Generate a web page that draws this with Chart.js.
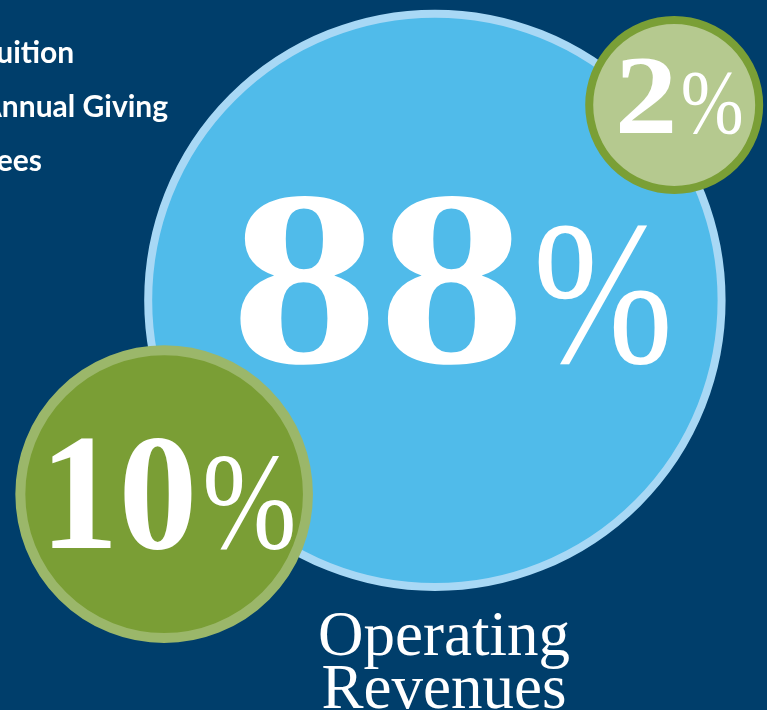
<!DOCTYPE html>
<html>
<head>
<meta charset="utf-8">
<script src="https://cdn.jsdelivr.net/npm/chart.js@4.4.1/dist/chart.umd.min.js"></script>
<style>
  html, body { margin: 0; padding: 0; background: #003e6b; overflow: hidden; }
  canvas { display: block; }
</style>
</head>
<body>
<canvas id="revChart" width="767" height="710"></canvas>
<script>
// revenue split
const categories = ['Tuition', 'Annual Giving', 'Fees'];
const shares = [88, 10, 2];
// bubble placement on a 0-100 grid, size in x units
const bubbleX = [56.7, 21.4, 87.9];
const bubbleY = [42.3, 69.6, 14.8];
const bubbleSize = [37.9, 19.4, 11.6];

const title = ['Operating', 'Revenues'];

var fills = ['#50bbea', '#7a9e35', '#b5c98f'];
var rims = ['#a8d8f5', '#9bb76a', '#7a9f36'];
var rimWidth = [8, 10, 8];
// font sizes, horizontal stretch, shifts from the bubble centre
var labelStyle = [
    { num: 250, numSx: 1.18, pct: 205, pctSx: 0.82, dx: 17, dy: 62 },
    { num: 166, numSx: 0.95, pct: 138, pctSx: 0.82, dx: 4, dy: 54 },
    { num: 112, numSx: 1.12, pct: 92, pctSx: 0.82, dx: 5, dy: 28 }
];

var serif = '"Liberation Serif", "DejaVu Serif", serif';

var bg = {
    id: 'bg',
    beforeDraw: function(chart) {
        const c = chart.ctx;
        c.save();
        c.fillStyle = '#003e6b';
        c.fillRect(0, 0, chart.width, chart.height);
        c.restore();
    }
};

var stretchText = function(c, txt, x, y, sx) {
    c.save();
    c.translate(x, y);
    c.scale(sx, 1);
    c.fillText(txt, 0, 0);
    c.restore();
};

var labels = {
    id: 'labels',
    afterDatasetsDraw: function(chart) {
        const c = chart.ctx;
        const pts = chart.getDatasetMeta(0).data;
        c.save();
        c.fillStyle = '#ffffff';
        c.textBaseline = 'alphabetic';
        c.textAlign = 'left';

        pts.forEach(function(p, i) {
            const s = labelStyle[i];
            const numTxt = String(shares[i]);
            const numFont = 'bold ' + s.num + 'px ' + serif;
            const pctFont = s.pct + 'px ' + serif;
            c.font = numFont;
            const wNum = c.measureText(numTxt).width * s.numSx;
            c.font = pctFont;
            const wPct = c.measureText('%').width * s.pctSx;
            const gap = s.num * 0.03;
            const x0 = p.x + s.dx - (wNum + gap + wPct) / 2;
            const base = p.y + s.dy;
            c.font = numFont;
            stretchText(c, numTxt, x0, base, s.numSx);
            c.font = pctFont;
            stretchText(c, '%', x0 + wNum + gap, base, s.pctSx);
        });

        // legend, clipped at the left edge
        c.font = 'bold 30px Lato, "Open Sans", sans-serif';
        categories.forEach(function(name, i) {
            c.fillText(name, -19, 63 + i * 54);
        });

        // caption
        c.textAlign = 'center';
        c.font = '63px ' + serif;
        c.fillText(title[0], 444, 655);
        c.fillText(title[1], 444, 708);
        c.restore();
    }
};

// radius gets resolved while parsing, so it only works once the x scale has been laid out
var sizeToPx = function(ctx) {
    const xs = ctx.chart.scales.x;
    const i = ctx.dataIndex;
    if (!xs || i === undefined) return 0;
    const outer = xs.getPixelForValue(bubbleSize[i]) - xs.getPixelForValue(0);
    return isFinite(outer) ? outer - rimWidth[i] / 2 : 0;
};

var makePoints = function() {
    return shares.map((v, i) => ({ x: bubbleX[i], y: bubbleY[i], v: v }));
};

var chart = new Chart(document.getElementById('revChart'), {
    type: 'bubble',
    data: {
        labels: categories,
        datasets: [{
            label: 'Operating Revenues',
            data: makePoints(),
            backgroundColor: fills,
            borderColor: rims,
            borderWidth: rimWidth,
            hoverBorderWidth: rimWidth,
            radius: sizeToPx,
            hoverRadius: 0
        }]
    },
    options: {
        responsive: false,
        animation: false,
        devicePixelRatio: 1,
        events: [],
        layout: { padding: 0, autoPadding: false },
        clip: false,
        plugins: {
            legend: { display: false },
            tooltip: { enabled: false }
        },
        scales: {
            x: { display: false, min: 0, max: 100 },
            y: { display: false, min: 0, max: 100, reverse: true }
        }
    },
    plugins: [bg, labels]
});
// fresh data array forces a re-parse now that the scales exist
chart.data.datasets[0].data = makePoints();
chart.update();
</script>
</body>
</html>
